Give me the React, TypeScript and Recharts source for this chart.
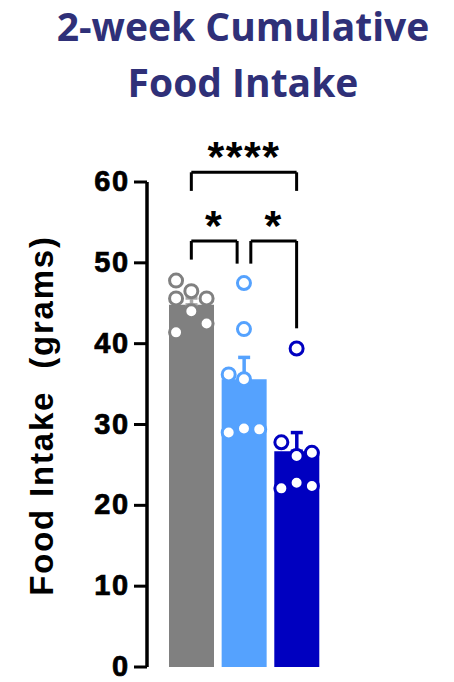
import React from 'react';
import {
  ComposedChart,
  Bar,
  Cell,
  ErrorBar,
  Scatter,
  XAxis,
  YAxis,
  ReferenceLine,
  ReferenceDot,
  Label,
} from 'recharts';

// groups (left to right) and their summary values
const groupPos = [1, 2, 3];
const groupMeans = [44.8, 35.6, 26.7];
const groupSems = [0.85, 2.7, 2.3];
const barColors = ['#808080', '#55a2fe', '#0000c0'];
const errColors = ['#a8a8a8', '#55a2fe', '#0000c0'];

// individual animals (grams); jitter = column inside the bar (-1, 0, +1)
const grayValues = [47.8, 46.5, 45.6, 45.6, 44.0, 42.5, 41.4];
const grayJitter = [-1, 0, -1, 1, 0, 1, -1];
const lightValues = [47.5, 41.8, 36.2, 35.6, 29.0, 29.5, 29.4];
const lightJitter = [0, 0, -1, 0, -1, 0, 1];
const darkValues = [39.4, 27.8, 26.1, 26.5, 22.1, 22.8, 22.4];
const darkJitter = [0, -1, 0, 1, -1, 0, 1];

const yTicks = [0, 10, 20, 30, 40, 50, 60];

// significance brackets: from, to, bar height, leg ends, label
const bracketFrom = [1, 1, 2.13];
const bracketTo = [3, 1.87, 3];
const bracketY = [61.2, 52.7, 52.7];
const bracketLegFrom = [58.9, 50.4, 49.9];
const bracketLegTo = [58.9, 49.9, 41.9];
const bracketStars = ['****', '*', '*'];

const JITTER = 0.29;

const errKeys = ['errGray', 'errLight', 'errDark'];
const barData = groupPos.map((pos, i) => {
  const row: any = { pos, value: groupMeans[i] };
  row[errKeys[i]] = [0, groupSems[i]];
  return row;
});

const toPoints = (g: number, values: number[], jitter: number[]) =>
  values.map((v, i) => ({ pos: groupPos[g] + jitter[i] * JITTER, value: v }));

const pointSets = [
  toPoints(0, grayValues, grayJitter),
  toPoints(1, lightValues, lightJitter),
  toPoints(2, darkValues, darkJitter),
];

const font = 'Liberation Sans, Arial, sans-serif';

const YTick = ({ x, y, payload }: any) => (
  <text
    x={x}
    y={y}
    dy={-1}
    textAnchor="end"
    dominantBaseline="central"
    fontFamily={font}
    fontWeight="bold"
    fontSize={29}
    letterSpacing={1.8}
    fill="#000"
    stroke="#000"
    strokeWidth={0.7}
  >
    {payload.value}
  </text>
);

const YLabel = ({ viewBox }: any) => {
  const cx = viewBox.x - 24;
  const cy = viewBox.y + viewBox.height / 2 - 9;
  return (
    <text x={cx} y={cy} transform={`rotate(-90 ${cx} ${cy})`} textAnchor="middle" fontFamily={font} fontWeight="bold" fontSize={33} letterSpacing={1.8} fill="#000">
      Food Intake&#160;&#160;(grams)
    </text>
  );
};

const dot = (color: string) => (props: any) => (
  <circle cx={props.cx} cy={props.cy} r={6.5} fill="#fff" stroke={color} strokeWidth={3} />
);

const xAxisProps = {
  dataKey: 'pos',
  type: 'number' as const,
  domain: [0.5, 3.9],
  allowDataOverflow: true,
  padding: { left: 18, right: 0 },
  height: 0,
  tick: false,
  tickLine: false,
};

export default function App() {
  return (
    <div style={{ position: 'absolute', left: 0, top: 0, width: 454, height: 682, background: '#fff' }}>
      <div
        style={{
          position: 'absolute',
          left: 0,
          top: -2,
          width: 486,
          textAlign: 'center',
          fontFamily: 'Open Sans, sans-serif',
          fontWeight: 700,
          fontSize: 39,
          lineHeight: '56px',
          color: '#2f3078',
        }}
      >
        2-week Cumulative
        <br />
        Food Intake
      </div>
      <ComposedChart
        width={454}
        height={682}
        data={barData}
        margin={{ top: 182, right: 110, bottom: 15, left: 77 }}
        style={{ position: 'absolute', left: 0, top: 0 }}
      >
        <XAxis {...xAxisProps} axisLine={{ stroke: '#000', strokeWidth: 4 }} />
        <XAxis {...xAxisProps} xAxisId="pts" hide />
        <YAxis
          type="number"
          domain={[0, 60]}
          ticks={yTicks}
          width={70}
          tickSize={13}
          tickMargin={4}
          tick={<YTick />}
          tickLine={{ stroke: '#000', strokeWidth: 3 }}
          axisLine={{ stroke: '#000', strokeWidth: 3.5 }}
        >
          <Label content={<YLabel />} />
        </YAxis>
        <Bar dataKey="value" barSize={45} isAnimationActive={false}>
          {barData.map((_, i) => (
            <Cell key={i} fill={barColors[i]} />
          ))}
          {errKeys.map((k, i) => (
            <ErrorBar key={k} dataKey={k} width={6} stroke={errColors[i]} strokeWidth={3.5} direction="y" />
          ))}
        </Bar>
        {pointSets.map((pts, i) => (
          <Scatter key={i} xAxisId="pts" data={pts} dataKey="value" shape={dot(barColors[i])} isAnimationActive={false} />
        ))}
        {bracketFrom.flatMap((x1, i) => [
          <ReferenceLine
            key={`h${i}`}
            segment={[{ x: x1, y: bracketY[i] }, { x: bracketTo[i], y: bracketY[i] }]}
            stroke="#000"
            strokeWidth={3}
            ifOverflow="visible"
          />,
          <ReferenceLine
            key={`l${i}`}
            segment={[{ x: x1, y: bracketY[i] }, { x: x1, y: bracketLegFrom[i] }]}
            stroke="#000"
            strokeWidth={3}
            ifOverflow="visible"
          />,
          <ReferenceLine
            key={`r${i}`}
            segment={[{ x: bracketTo[i], y: bracketY[i] }, { x: bracketTo[i], y: bracketLegTo[i] }]}
            stroke="#000"
            strokeWidth={3}
            ifOverflow="visible"
          />,
          <ReferenceDot
            key={`s${i}`}
            x={(x1 + bracketTo[i]) / 2}
            y={bracketY[i] + 2.0}
            r={0}
            stroke="none"
            fill="none"
            ifOverflow="visible"
            label={{ value: bracketStars[i], position: 'center', fontFamily: font, fontWeight: 'bold', fontSize: 43, letterSpacing: 1.5, fill: '#000' }}
          />,
        ])}
      </ComposedChart>
    </div>
  );
}
